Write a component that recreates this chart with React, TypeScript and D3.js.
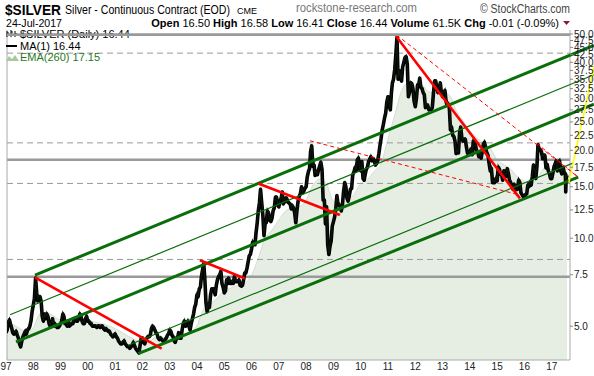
import React from 'react';
import * as d3 from 'd3';

const W = 594;
const H = 376;
const FONT = '"Liberation Sans", Arial, Helvetica, sans-serif';

// Semi-monthly closes (1st and 16th of each month)
const p1997 = [4.75, 4.85, 5.15, 5.25, 5.10, 4.95, 4.75, 4.70, 4.75, 4.80, 4.65, 4.55, 4.35, 4.25, 4.45, 4.60, 4.70, 4.80, 4.70, 4.85, 4.90, 5.00, 5.20, 5.60];
const p1998 = [5.90, 6.20, 7.30, 6.50, 6.10, 6.30, 6.30, 6.10, 5.40, 5.20, 5.50, 5.30, 5.50, 5.40, 5.10, 5.00, 5.10, 5.30, 5.00, 5.10, 5.00, 4.95, 4.95, 5.00];
const p1999 = [5.10, 5.20, 5.50, 5.40, 5.10, 5.10, 5.00, 5.20, 5.00, 5.05, 5.10, 5.10, 5.30, 5.30, 5.20, 5.20, 5.30, 5.50, 5.40, 5.20, 5.10, 5.10, 5.30, 5.40];
const p2000 = [5.20, 5.20, 5.10, 5.10, 5.00, 5.00, 5.00, 5.00, 4.95, 5.00, 5.00, 4.95, 5.00, 5.00, 4.90, 4.85, 4.90, 4.85, 4.80, 4.80, 4.70, 4.65, 4.60, 4.65];
const p2001 = [4.70, 4.60, 4.55, 4.45, 4.40, 4.35, 4.35, 4.40, 4.45, 4.35, 4.30, 4.25, 4.25, 4.20, 4.25, 4.30, 4.40, 4.30, 4.20, 4.15, 4.10, 4.05, 4.30, 4.55];
const p2002 = [4.55, 4.40, 4.35, 4.45, 4.55, 4.60, 4.60, 4.65, 4.90, 5.00, 4.95, 4.85, 4.75, 4.70, 4.55, 4.50, 4.55, 4.50, 4.45, 4.40, 4.50, 4.55, 4.65, 4.70];
const p2003 = [4.85, 4.80, 4.65, 4.60, 4.45, 4.40, 4.55, 4.55, 4.75, 4.55, 4.55, 4.85, 5.10, 5.20, 5.00, 5.10, 5.20, 5.00, 4.85, 5.10, 5.30, 5.50, 5.80, 5.95];
const p2004 = [6.40, 6.30, 6.70, 6.80, 7.40, 7.80, 8.20, 7.20, 6.00, 5.60, 5.90, 5.80, 6.40, 6.70, 6.70, 6.70, 6.40, 6.90, 7.20, 7.40, 7.50, 7.70, 7.00, 6.80];
const p2005 = [6.50, 6.60, 7.20, 7.00, 7.30, 7.00, 7.00, 7.10, 7.00, 7.40, 7.10, 7.10, 7.10, 7.20, 6.90, 6.85, 6.90, 7.20, 7.60, 7.60, 7.90, 8.30, 8.70, 8.80];
const p2006 = [9.20, 9.70, 9.50, 9.50, 10.40, 11.20, 12.40, 13.20, 14.70, 13.30, 12.00, 10.20, 11.20, 11.30, 12.40, 12.20, 11.50, 11.40, 11.70, 12.40, 12.70, 13.80, 13.80, 13.00];
const p2007 = [12.80, 13.40, 13.70, 14.40, 13.10, 13.30, 13.70, 13.70, 13.30, 13.20, 13.10, 12.60, 12.90, 12.70, 12.20, 11.30, 12.50, 13.40, 13.90, 14.20, 15.00, 14.30, 14.50, 14.80];
const p2008 = [15.00, 16.20, 16.90, 17.30, 19.80, 20.70, 17.60, 17.80, 16.40, 16.80, 16.50, 17.20, 17.70, 18.20, 17.20, 13.50, 13.50, 11.20, 12.80, 9.50, 8.80, 9.40, 9.80, 11.00];
const p2009 = [11.40, 11.80, 12.60, 14.00, 13.20, 13.00, 12.80, 12.40, 13.00, 14.40, 15.50, 15.00, 13.70, 13.40, 14.00, 14.70, 14.80, 16.50, 16.80, 17.40, 17.00, 18.50, 18.80, 17.20];
const p2010 = [17.00, 18.30, 16.00, 15.80, 16.50, 17.20, 17.50, 18.30, 18.60, 19.00, 18.40, 18.60, 18.50, 17.80, 18.00, 18.40, 19.50, 20.80, 22.00, 23.50, 24.60, 25.80, 26.80, 29.20];
const p2011 = [30.50, 28.50, 27.50, 31.50, 34.00, 35.00, 37.80, 42.50, 48.80, 35.00, 37.50, 35.50, 34.50, 38.50, 40.00, 41.50, 41.80, 39.50, 30.50, 31.50, 34.00, 33.80, 32.50, 29.50];
const p2012 = [28.2, 30.0, 33.5, 33.5, 35.3, 32.8, 32.5, 31.5, 31.0, 28.0, 28.5, 28.5, 27.5, 27.6, 27.5, 28.0, 31.5, 34.5, 34.5, 32.5, 31.5, 32.5, 34.0, 31.5];
const p2013 = [30.5, 31.5, 32.0, 29.5, 28.5, 28.8, 28.0, 23.5, 24.0, 22.5, 22.3, 21.5, 19.5, 19.8, 19.6, 23.0, 24.0, 22.0, 21.5, 21.8, 21.8, 20.5, 19.5, 19.5];
const p2014 = [19.5, 20.2, 19.3, 21.5, 21.3, 21.0, 19.8, 19.8, 19.0, 19.4, 18.8, 19.8, 21.0, 21.3, 20.3, 19.6, 19.2, 18.0, 17.0, 17.3, 15.5, 15.5, 15.5, 16.0];
const p2015 = [15.7, 17.5, 17.2, 16.5, 16.5, 15.8, 17.0, 16.2, 16.3, 17.3, 16.6, 15.8, 15.5, 15.0, 14.7, 15.3, 14.6, 15.0, 14.7, 15.8, 15.5, 14.3, 14.1, 13.9];
const p2016 = [13.8, 14.1, 14.2, 15.2, 15.0, 15.5, 15.2, 16.3, 17.8, 17.0, 16.0, 17.5, 20.9, 20.2, 20.0, 19.8, 18.7, 19.2, 19.2, 17.4, 17.9, 17.0, 16.6, 16.0];
const p2017 = [16.0, 16.7, 17.6, 18.0, 18.4, 17.0, 18.2, 18.4, 17.0, 16.6, 17.5, 16.8, 16.6];
const priceYears = [p1997, p1998, p1999, p2000, p2001, p2002, p2003, p2004, p2005, p2006, p2007, p2008, p2009, p2010, p2011, p2012, p2013, p2014, p2015, p2016, p2017];
const tailDates = ['2017-07-06', '2017-07-07', '2017-07-12', '2017-07-24'];
const tailValues = [15.4, 14.4, 15.9, 16.44];

// EMA(260) read at the start of each quarter from Jan-1997
const emaQuarterly = [
  5.10, 5.06, 4.92, 4.77, 4.94, 5.51, 5.55, 5.41, 5.25, 5.27, 5.18, 5.23,
  5.22, 5.17, 5.10, 5.03, 4.90, 4.76, 4.61, 4.49, 4.42, 4.43, 4.59, 4.58,
  4.56, 4.58, 4.57, 4.78, 5.01, 5.74, 5.95, 6.26, 6.63, 6.76, 6.91, 7.00,
  7.48, 8.55, 9.97, 10.66, 11.54, 12.38, 12.70, 12.81, 13.46, 15.20, 15.95, 15.30,
  13.38, 13.19, 13.47, 14.11, 15.36, 15.89, 16.95, 18.03, 21.86, 26.31, 31.91, 34.02,
  33.15, 33.37, 31.66, 31.52, 31.67, 30.90, 27.41, 25.21, 23.29, 22.04, 21.16, 20.31,
  18.54, 17.86, 17.21, 16.19, 15.65, 15.32, 16.17, 17.44, 17.19, 17.51, 17.35,
];
const emaLastDate = '2017-07-24';
const emaLast = 17.15;

const yTickValues = [50, 47.5, 45, 42.5, 40, 37.5, 35, 32.5, 30, 27.5, 25, 22.5, 20, 17.5, 15, 12.5, 10, 7.5, 5];
const xTickLabels = ['97', '98', '99', '00', '01', '02', '03', '04', '05', '06', '07', '08', '09', '10', '11', '12', '13', '14', '15', '16', '17'];

const hSolid = [49.7, 18.56, 7.38];
const hDashed = [43.0, 21.2, 15.4, 8.46];

// Annotation lines: [decimal year, price] endpoints
const greenThick = [
  [[1998.063, 7.48], [2018.546, 45.7]],
  [[1997.366, 4.42], [2018.546, 28.76]],
  [[2001.848, 4.03], [2017.971, 16.19]],
];
const greenThin = [
  [[1997.147, 5.47], [2018.546, 36.27]],
  [[2001.482, 4.30], [2017.777, 18.08]],
];
const redSolid = [
  [[1998.063, 7.34], [2002.705, 4.19]],
  [[2004.109, 8.41], [2005.758, 7.28]],
  [[2006.245, 15.40], [2009.239, 12.0]],
  [[2011.291, 49.2], [2015.835, 13.69]],
];
const redDashed = [
  [[2008.14, 21.55], [2015.835, 14.05]],
  [[2011.317, 49.6], [2017.971, 16.19]],
  [[2016.447, 21.12], [2017.971, 16.19]],
];
const yellowLine = [[2017.63, 15.56], [2018.62, 41.4]];

const parse = d3.timeParse('%Y-%m-%d');
const dy = (yv: number) => {
  const yr = Math.floor(yv);
  const s = new Date(yr, 0, 1).getTime();
  const e = new Date(yr + 1, 0, 1).getTime();
  return new Date(s + (yv - yr) * (e - s));
};

type Pt = { d: Date; v: number };

export default function App() {
  const x = d3.scaleTime().domain([new Date(1997, 0, 1), new Date(2017, 6, 24)]).range([6, 567]);
  const y = d3.scaleLog().domain([3.83, 50]).range([360, 34]);

  const prices: Pt[] = [];
  priceYears.forEach((arr, yi) => {
    arr.forEach((v, k) => {
      prices.push({ d: new Date(1997 + yi, Math.floor(k / 2), k % 2 === 0 ? 1 : 16), v });
    });
  });
  tailDates.forEach((s, i) => prices.push({ d: parse(s) as Date, v: tailValues[i] }));

  const ema: Pt[] = emaQuarterly.map((v, i) => ({ d: new Date(1997, i * 3, 1), v }));
  ema.push({ d: parse(emaLastDate) as Date, v: emaLast });

  const line = d3.line<Pt>().x((p) => x(p.d)).y((p) => y(p.v));
  const area = d3.area<Pt>().x((p) => x(p.d)).y0(360).y1((p) => y(p.v)).curve(d3.curveMonotoneX);
  const emaLine = d3.line<Pt>().x((p) => x(p.d)).y((p) => y(p.v)).curve(d3.curveMonotoneX);

  const seg = (s: number[][], key: string, stroke: string, sw: number, dash?: string) => (
    <line
      key={key}
      x1={x(dy(s[0][0]))}
      y1={y(s[0][1])}
      x2={x(dy(s[1][0]))}
      y2={y(s[1][1])}
      stroke={stroke}
      strokeWidth={sw}
      strokeDasharray={dash}
    />
  );

  const L = 7;
  const R = 570;
  const B = 360;
  const T = 30;

  return (
    <svg width={W} height={H} style={{ position: 'absolute', left: 0, top: 0, background: '#fff' }} fontFamily={FONT}>
      <rect x={0} y={0} width={W} height={H} fill="#fff" />
      <defs>
        <clipPath id="plot">
          <rect x={L} y={T} width={R - L} height={B - T} />
        </clipPath>
      </defs>

      {/* header */}
      <text x={5} y={15} fontSize={15} fontWeight="bold" fill="#000" textLength={56} lengthAdjust="spacingAndGlyphs">$SILVER</text>
      <text x={65} y={14} fontSize={12} fill="#000" textLength={165} lengthAdjust="spacingAndGlyphs">Silver - Continuous Contract (EOD)</text>
      <text x={237} y={14} fontSize={9} fill="#000" textLength={20} lengthAdjust="spacingAndGlyphs">CME</text>
      <text x={296} y={12} fontSize={12} fill="#777" textLength={121} lengthAdjust="spacingAndGlyphs">rockstone-research.com</text>
      <text x={480} y={13} fontSize={12} fill="#444" textLength={90} lengthAdjust="spacingAndGlyphs">© StockCharts.com</text>
      <text x={6} y={27} fontSize={11} fill="#000" textLength={56} lengthAdjust="spacingAndGlyphs">24-Jul-2017</text>
      <text x={559} y={27} fontSize={11} fill="#000" textAnchor="end">
        <tspan fontWeight="bold">Open</tspan> 16.50 <tspan fontWeight="bold">High</tspan> 16.58{' '}
        <tspan fontWeight="bold">Low</tspan> 16.41 <tspan fontWeight="bold">Close</tspan> 16.44{' '}
        <tspan fontWeight="bold">Volume</tspan> 61.5K <tspan fontWeight="bold">Chg</tspan> -0.01 (-0.09%)
      </text>
      <path d="M563,21 L570,21 L566.5,25 Z" fill="#8b1a3a" />

      {/* EMA area */}
      <g clipPath="url(#plot)">
        <path d={area(ema) || ''} fill="#e6eee4" />
        <path d={emaLine(ema) || ''} fill="none" stroke="#d2ded0" strokeWidth={1} />
      </g>

      {/* horizontal reference lines */}
      {hDashed.map((v, i) => (
        <line key={'hd' + i} x1={L} x2={R} y1={y(v)} y2={y(v)} stroke="#999" strokeWidth={1} strokeDasharray="6,4" />
      ))}
      {hSolid.map((v, i) => (
        <line key={'hs' + i} x1={L} x2={R} y1={y(v)} y2={y(v)} stroke="#9a9a9a" strokeWidth={2.5} />
      ))}

      {/* frame */}
      <line x1={L} x2={L} y1={T} y2={B} stroke="#aaa" strokeWidth={1} />
      <line x1={R} x2={R} y1={T} y2={B} stroke="#aaa" strokeWidth={1} />
      <line x1={L} x2={R} y1={B} y2={B} stroke="#aaa" strokeWidth={1} />

      {/* price */}
      <g clipPath="url(#plot)">
        <path d={line(prices) || ''} fill="none" stroke="#000" strokeWidth={3.6} strokeLinejoin="round" />
        <path d={line(prices) || ''} fill="none" stroke="#0b150b" strokeWidth={1.5} transform="translate(0,-1.4)" />
      </g>

      {/* annotations */}
      {greenThin.map((s, i) => seg(s, 'gt' + i, '#0a6e0a', 1.2))}
      {greenThick.map((s, i) => seg(s, 'gk' + i, '#0a6e0a', 3))}
      {redDashed.map((s, i) => seg(s, 'rd' + i, '#ff0000', 1, '4,3'))}
      {redSolid.map((s, i) => seg(s, 'rs' + i, '#ff0000', 2.6))}
      {seg(yellowLine, 'yl', '#ffff00', 1.5)}

      {/* legend */}
      <g fontSize={11}>
        <path d="M7,31 v6 M9,33 h-2 M11,30 v7 M13,32 h-2 M15,31 v6 M17,34 h-2" stroke="#000" strokeWidth={1} />
        <text x={20} y={38} fill="#000">$SILVER (Daily) 16.44</text>
        <line x1={6} x2={17} y1={46} y2={46} stroke="#000" strokeWidth={2} />
        <text x={20} y={50} fill="#000">MA(1) 16.44</text>
        <path d="M6,61 L9,56 L12,59 L15,55 L19,61 Z" fill="#a8c8a0" />
        <text x={20} y={61} fill="#1f7a1f">EMA(260) 17.15</text>
      </g>
      <line x1={L} x2={R} y1={y(hSolid[0])} y2={y(hSolid[0])} stroke="#9a9a9a" strokeWidth={2.5} />

      {/* right axis */}
      {yTickValues.map((v) => (
        <g key={'yt' + v}>
          <line x1={R} x2={R + 3} y1={y(v)} y2={y(v)} stroke="#888" />
          <text x={R + 4} y={y(v) + 3.5} fontSize={10} fill="#222">
            {d3.format('.1f')(v)}
          </text>
        </g>
      ))}

      {/* bottom axis */}
      {xTickLabels.map((lab, i) => (
        <text key={'xt' + lab} x={x(new Date(1997 + i, 0, 1))} y={370} fontSize={10} fill="#222" textAnchor="middle">
          {lab}
        </text>
      ))}
    </svg>
  );
}
